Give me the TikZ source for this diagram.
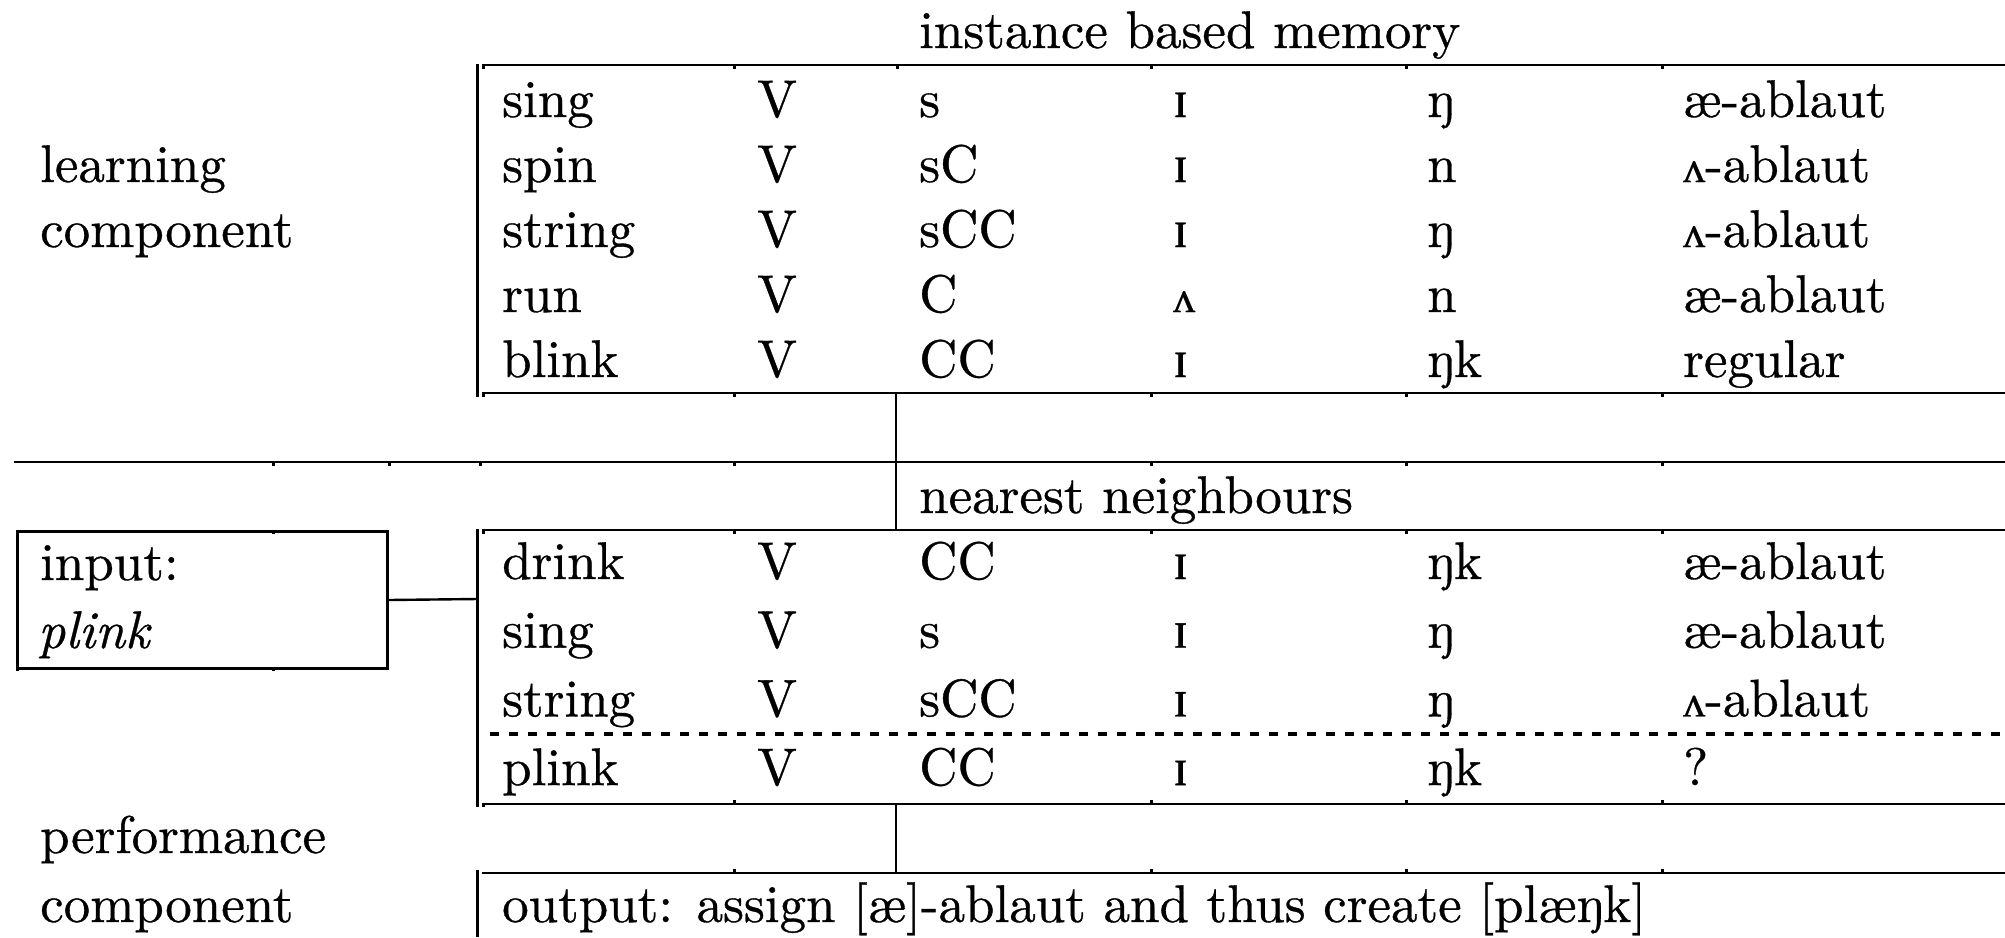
\documentclass[tikz,border=0pt]{standalone}
\usepackage{fontspec}
\setmainfont{lmroman10-regular.otf}[ItalicFont=lmroman10-italic.otf, FakeBold=0.6]
\newfontfamily\ipafont{Liberation Serif}[FakeBold=0.6]
\newcommand\ipa[1]{{\ipafont #1}}
\newcommand\ipI{\ipa{ɪ}}
\newcommand\ipV{\ipa{\fontsize{44}{50}\selectfont ʌ}}

\tikzset{
  txt/.style={anchor=base west, inner sep=0pt, font=\fontsize{53}{60}\selectfont},
  rule/.style={line width=2.6pt},
  rulethin/.style={line width=2pt},
  conn/.style={line width=2.4pt},
  tickmark/.style={line width=3pt},
  boxframe/.style={draw, line width=3pt, inner sep=0pt, anchor=north west},
}

\begin{document}
\begin{tikzpicture}[x=1pt, y=-1pt]
\useasboundingbox (0,0) rectangle (2005,937);

% ---------- learning component: instance based memory ----------
\node[txt] (learn1) at (40,182) {learning};
\node[txt] (learn2) at (40,247) {component};
\node[txt] (memtitle) at (919,48) {instance based memory};

\draw[rule] (477.5,64) -- (477.5,397);
\draw[rule] (482,65) -- (2005,65);
\draw[rule] (482,393) -- (2005,393);
\foreach \x in {483.5,734,897,1151,1406,1662} \draw[tickmark] (\x,65) -- (\x,69);
\foreach \x in {483.5,734,1151,1406,1662} \draw[tickmark] (\x,393) -- (\x,397);

\foreach [count=\i] \a/\b/\c/\d/\e/\f in {
  sing/V/s/\ipI/ŋ/æ-ablaut,
  spin/V/sC/\ipI/n/\ipV-ablaut,
  string/V/sCC/\ipI/ŋ/\ipV-ablaut,
  run/V/C/\ipV/n/æ-ablaut,
  blink/V/CC/\ipI/ŋk/regular}{
  \pgfmathsetmacro\yy{117+65*(\i-1)}
  \node[txt] (m-\i-1) at (502,\yy) {\a};
  \node[txt] (m-\i-2) at (757,\yy) {\b};
  \node[txt] (m-\i-3) at (919,\yy) {\c};
  \node[txt] (m-\i-4) at (1173,\yy) {\d};
  \node[txt] (m-\i-5) at (1427,\yy) {\e};
  \node[txt] (m-\i-6) at (1683,\yy) {\f};
}

% ---------- divider between the two components ----------
\draw[rulethin] (14,462) -- (2005,462);
\foreach \x in {273,389,480,734,1151,1406,1662} \draw[tickmark] (\x,462) -- (\x,466);

% ---------- input ----------
\node[boxframe, minimum width=370pt, minimum height=137pt] (inbox) at (16,530) {};
\foreach \x in {273} {
  \draw[tickmark] (\x,530) -- (\x,534);
  \draw[tickmark] (\x,667) -- (\x,671);
}
\draw[tickmark] (17.5,667) -- (17.5,671);
\node[txt] (inlabel) at (40,580) {input:};
\node[txt] (inword) at (38,648) {\itshape plink};

% ---------- nearest neighbours ----------
\node[txt] (nntitle) at (919,513) {nearest neighbours};
\draw[rule] (477.5,529) -- (477.5,807);
\draw[rule] (482,530) -- (2005,530);
\draw[rule] (482,804) -- (2005,804);
\foreach \x in {483.5,734,1151,1406,1662} \draw[tickmark] (\x,530) -- (\x,534);
\foreach \x in {734,1151,1406,1662} \draw[tickmark] (\x,804) -- (\x,800);
\draw[tickmark] (483.5,804) -- (483.5,807);
\draw[line width=3.2pt, dash pattern=on 9pt off 10pt] (490,734) -- (2005,734);

\foreach [count=\i] \a/\b/\c/\d/\e/\f in {
  drink/V/CC/\ipI/ŋk/æ-ablaut,
  sing/V/s/\ipI/ŋ/æ-ablaut,
  string/V/sCC/\ipI/ŋ/\ipV-ablaut,
  plink/V/CC/\ipI/ŋk/?}{
  \pgfmathsetmacro\yy{579+68.7*(\i-1)}
  \node[txt] (n-\i-1) at (502,\yy) {\a};
  \node[txt] (n-\i-2) at (757,\yy) {\b};
  \node[txt] (n-\i-3) at (919,\yy) {\c};
  \node[txt] (n-\i-4) at (1173,\yy) {\d};
  \node[txt] (n-\i-5) at (1427,\yy) {\e};
  \node[txt] (n-\i-6) at (1683,\yy) {\f};
}

% ---------- performance component: output ----------
\node[txt] (perf1) at (40,853) {performance};
\node[txt] (perf2) at (40,922) {component};
\draw[rule] (477.5,870) -- (477.5,937);
\draw[rule] (482,873) -- (2005,873);
\foreach \x in {734,1151,1406,1662} \draw[tickmark] (\x,873) -- (\x,869);
\node[txt] (output) at (502,922) {output: assign [æ]-ablaut and thus create [plæŋk]};

% ---------- connectors ----------
\coordinate (memfoot) at (896,393);
\coordinate (nnhead) at (896,530);
\coordinate (nnfoot) at (896,804);
\coordinate (outhead) at (896,873);
\coordinate (nnleft) at (477.5,599);
\draw[conn] (memfoot) -- (nnhead);
\draw[conn] (nnfoot) -- (outhead);
\draw[conn] (inbox.east) -- (nnleft);
\end{tikzpicture}
\end{document}
